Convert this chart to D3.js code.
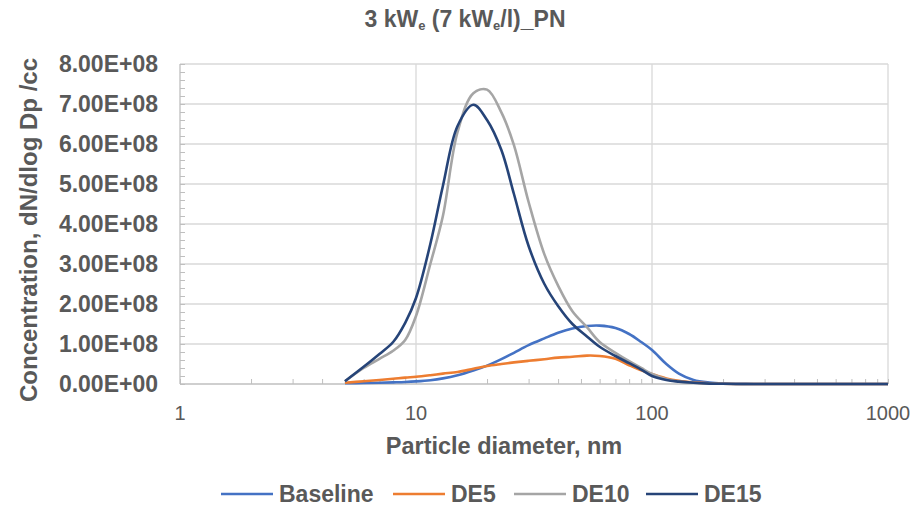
<!DOCTYPE html>
<html>
<head>
<meta charset="utf-8">
<script src="https://cdn.jsdelivr.net/npm/d3@7"></script>
<style>
  html, body { margin: 0; padding: 0; background: #fff; }
  svg { display: block; }
  text { font-family: "Liberation Sans", Arial, sans-serif; fill: #595959; }
</style>
</head>
<body>
<svg id="chart" width="916" height="514"></svg>
<script>
// Particle size distribution, dN/dlogDp per cc, by mobility diameter (nm)
const diameters = [5, 6, 7, 8, 9, 10, 11.5, 13, 15, 17.5, 20, 23, 26, 30, 35, 40, 46, 53, 60, 70, 80, 90, 100, 115, 130, 150, 175, 200, 250, 300, 400, 500, 600, 700, 800, 900, 1000];

const baseline = [0.02e8, 0.025e8, 0.03e8, 0.04e8, 0.05e8, 0.065e8, 0.095e8, 0.14e8, 0.22e8, 0.34e8, 0.46e8, 0.62e8, 0.78e8, 0.97e8, 1.14e8, 1.28e8, 1.39e8, 1.45e8, 1.46e8, 1.4e8, 1.25e8, 1.05e8, 0.85e8, 0.5e8, 0.26e8, 0.1e8, 0.035e8, 0.012e8, 0.002e8, 0, 0, 0, 0, 0, 0, 0, 0];
const de5 = [0.03e8, 0.07e8, 0.1e8, 0.13e8, 0.16e8, 0.18e8, 0.22e8, 0.26e8, 0.3e8, 0.38e8, 0.45e8, 0.5e8, 0.54e8, 0.58e8, 0.62e8, 0.66e8, 0.68e8, 0.71e8, 0.7e8, 0.63e8, 0.47e8, 0.34e8, 0.25e8, 0.14e8, 0.08e8, 0.04e8, 0.015e8, 0.005e8, 0, 0, 0, 0, 0, 0, 0, 0, 0];
const de10 = [0.07e8, 0.4e8, 0.63e8, 0.83e8, 1.1e8, 1.7e8, 3.0e8, 4.2e8, 6.3e8, 7.27e8, 7.36e8, 6.79e8, 5.97e8, 4.55e8, 3.24e8, 2.46e8, 1.82e8, 1.42e8, 1.05e8, 0.78e8, 0.57e8, 0.4e8, 0.25e8, 0.12e8, 0.06e8, 0.03e8, 0.01e8, 0.005e8, 0, 0, 0, 0, 0, 0, 0, 0, 0];
const de15 = [0.07e8, 0.43e8, 0.75e8, 1.05e8, 1.53e8, 2.15e8, 3.5e8, 4.95e8, 6.45e8, 6.98e8, 6.6e8, 5.85e8, 4.75e8, 3.45e8, 2.5e8, 1.95e8, 1.5e8, 1.19e8, 0.93e8, 0.7e8, 0.52e8, 0.36e8, 0.2e8, 0.1e8, 0.06e8, 0.03e8, 0.01e8, 0.005e8, 0, 0, 0, 0, 0, 0, 0, 0, 0];

const seriesNames = ["Baseline", "DE5", "DE10", "DE15"];
const seriesColors = ["#4472C4", "#ED7D31", "#A5A5A5", "#264478"];
const seriesValues = [baseline, de5, de10, de15];

const xTicks = [1, 10, 100, 1000];
const yTicks = [0, 1e8, 2e8, 3e8, 4e8, 5e8, 6e8, 7e8, 8e8];

const svg = d3.select("#chart");
svg.append("rect").attr("width", 916).attr("height", 514).attr("fill", "#fff");

const plot = { left: 180, right: 888, top: 64, bottom: 384 };

const x = d3.scaleLog().domain([1, 1000]).range([plot.left, plot.right]);
const y = d3.scaleLinear().domain([0, 8e8]).range([plot.bottom, plot.top]);

// Grid lines
const grid = svg.append("g");
grid.selectAll("line.h").data(yTicks.filter(d => d > 0)).join("line")
  .attr("x1", plot.left).attr("x2", plot.right)
  .attr("y1", d => y(d)).attr("y2", d => y(d))
  .attr("stroke", "#d9d9d9").attr("stroke-width", 1.3);
grid.selectAll("line.v").data(xTicks.filter(d => d > 1)).join("line")
  .attr("x1", d => x(d)).attr("x2", d => x(d))
  .attr("y1", plot.top).attr("y2", plot.bottom)
  .attr("stroke", "#d9d9d9").attr("stroke-width", 1.3);

// Minor ticks pointing into the plot
const xMinor = [];
for (let dec = 1; dec < 1000; dec *= 10) for (let m = 1; m <= 10; m++) xMinor.push(dec * m);
const yMinor = d3.range(0, 8e8 + 1, 2e7);

const axisColor = "#bfbfbf";
const xAxis = d3.axisBottom(x).tickValues(xMinor).tickSize(-5).tickFormat("");
const yAxis = d3.axisLeft(y).tickValues(yMinor).tickSize(-5).tickFormat("");

const gx = svg.append("g").attr("transform", `translate(0,${plot.bottom})`).call(xAxis);
const gy = svg.append("g").attr("transform", `translate(${plot.left},0)`).call(yAxis);
[gx, gy].forEach(g => {
  g.select(".domain").attr("stroke", axisColor).attr("stroke-width", 1.3);
  g.selectAll(".tick line").attr("stroke", axisColor).attr("stroke-width", 1);
});
gx.select(".domain").attr("d", `M${plot.left},0H${plot.right}`);
gy.select(".domain").attr("d", `M0,${plot.bottom}V${plot.top}`);

// Tick labels
svg.append("g").selectAll("text").data(xTicks).join("text")
  .attr("x", d => x(d)).attr("y", 420)
  .attr("text-anchor", "middle")
  .style("font-size", "20px")
  .text(d => d);

svg.append("g").selectAll("text").data(yTicks).join("text")
  .attr("x", 158).attr("y", d => y(d) + 8)
  .attr("text-anchor", "end")
  .style("font-size", "23px").style("font-weight", "bold")
  .text(d => (d / 1e8).toFixed(2) + "E+" + (d === 0 ? "00" : "08"));

// Axis titles
svg.append("text")
  .attr("x", 504).attr("y", 454)
  .attr("text-anchor", "middle")
  .style("font-size", "23.5px").style("font-weight", "bold")
  .text("Particle diameter, nm");

svg.append("text")
  .attr("transform", "translate(37,230) rotate(-90)")
  .attr("text-anchor", "middle")
  .style("font-size", "24px").style("font-weight", "bold")
  .text("Concentration, dN/dlog Dp /cc");

// Title with subscript e
const title = svg.append("text")
  .attr("x", 465).attr("y", 27)
  .attr("text-anchor", "middle")
  .style("font-size", "23px").style("font-weight", "bold");
title.append("tspan").text("3 kW");
title.append("tspan").attr("dy", 3).style("font-size", "13px").text("e");
title.append("tspan").attr("dy", -3).text(" (7 kW");
title.append("tspan").attr("dy", 3).style("font-size", "13px").text("e");
title.append("tspan").attr("dy", -3).text("/l)_PN");

// Smoothed curves
const line = d3.line()
  .x(d => x(d[0]))
  .y(d => Math.min(y(d[1]), plot.bottom))
  .curve(d3.curveCatmullRom.alpha(0.5));

const curves = svg.append("g");
seriesValues.forEach((vals, i) => {
  curves.append("path")
    .datum(diameters.map((d, j) => [d, vals[j]]))
    .attr("fill", "none")
    .attr("stroke", seriesColors[i])
    .attr("stroke-width", 2.6)
    .attr("stroke-linejoin", "round")
    .attr("d", line);
});

// Legend
const legendX = [221, 393, 514, 646];
const legend = svg.append("g");
seriesNames.forEach((name, i) => {
  legend.append("line")
    .attr("x1", legendX[i]).attr("x2", legendX[i] + 52)
    .attr("y1", 494).attr("y2", 494)
    .attr("stroke", seriesColors[i]).attr("stroke-width", 2.6);
  legend.append("text")
    .attr("x", legendX[i] + 58).attr("y", 502)
    .style("font-size", "23px").style("font-weight", "bold")
    .text(name);
});
</script>
</body>
</html>
